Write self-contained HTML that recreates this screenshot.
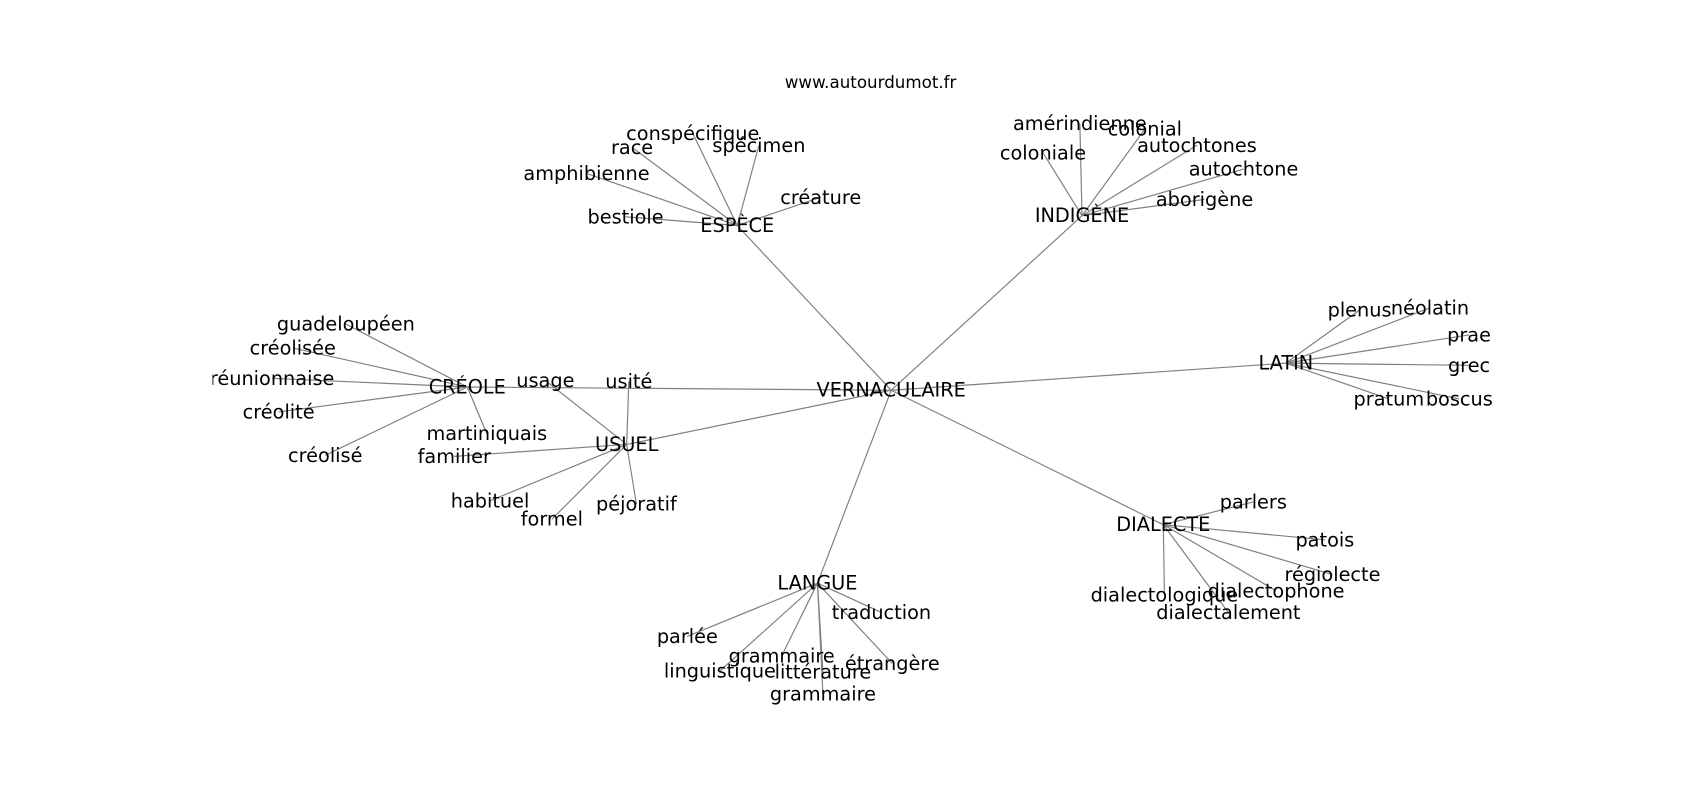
<!DOCTYPE html>
<html><head><meta charset="utf-8"><style>
html,body{margin:0;padding:0;background:#fff;}
svg{display:block;}
text{font-family:"DejaVu Sans","Liberation Sans",sans-serif;font-size:17.8px;fill:#000;text-anchor:middle;dominant-baseline:central;}
line{stroke:#808080;stroke-width:1.1;}
</style></head><body>
<svg width="1700" height="800" viewBox="0 0 1568 738" preserveAspectRatio="none">
<defs><clipPath id="c"><rect x="196" y="0" width="1300" height="738"/></clipPath></defs>
<text x="803" y="76" style="font-size:15.4px">www.autourdumot.fr</text>
<g clip-path="url(#c)">
<g>
<line x1="822" y1="360" x2="680" y2="208"/>
<line x1="822" y1="360" x2="998" y2="199"/>
<line x1="822" y1="360" x2="1186" y2="335"/>
<line x1="822" y1="360" x2="1073" y2="484"/>
<line x1="822" y1="360" x2="754" y2="538"/>
<line x1="822" y1="360" x2="578" y2="410"/>
<line x1="822" y1="360" x2="431" y2="357"/>
<line x1="503" y1="351" x2="578" y2="410"/>
<line x1="580" y1="352" x2="578" y2="410"/>
<line x1="431" y1="357" x2="449" y2="400"/>
<line x1="419" y1="421" x2="578" y2="410"/>
<line x1="680" y1="208" x2="639" y2="123"/>
<line x1="680" y1="208" x2="583" y2="136"/>
<line x1="680" y1="208" x2="700" y2="134"/>
<line x1="680" y1="208" x2="541" y2="160"/>
<line x1="680" y1="208" x2="757" y2="182"/>
<line x1="680" y1="208" x2="577" y2="200"/>
<line x1="998" y1="199" x2="996" y2="114"/>
<line x1="998" y1="199" x2="1056" y2="119"/>
<line x1="998" y1="199" x2="962" y2="141"/>
<line x1="998" y1="199" x2="1104" y2="134"/>
<line x1="998" y1="199" x2="1147" y2="156"/>
<line x1="998" y1="199" x2="1111" y2="184"/>
<line x1="1186" y1="335" x2="1254" y2="286"/>
<line x1="1186" y1="335" x2="1319" y2="284"/>
<line x1="1186" y1="335" x2="1355" y2="309"/>
<line x1="1186" y1="335" x2="1355" y2="337"/>
<line x1="1186" y1="335" x2="1281" y2="368"/>
<line x1="1186" y1="335" x2="1346" y2="368"/>
<line x1="1073" y1="484" x2="1156" y2="463"/>
<line x1="1073" y1="484" x2="1222" y2="498"/>
<line x1="1073" y1="484" x2="1229" y2="530"/>
<line x1="1073" y1="484" x2="1177" y2="545"/>
<line x1="1073" y1="484" x2="1074" y2="549"/>
<line x1="1073" y1="484" x2="1133" y2="565"/>
<line x1="754" y1="538" x2="634" y2="587"/>
<line x1="754" y1="538" x2="813" y2="565"/>
<line x1="754" y1="538" x2="721" y2="605"/>
<line x1="754" y1="538" x2="823" y2="612"/>
<line x1="754" y1="538" x2="664" y2="619"/>
<line x1="754" y1="538" x2="759" y2="620"/>
<line x1="754" y1="538" x2="759" y2="640"/>
<line x1="578" y1="410" x2="452" y2="462"/>
<line x1="578" y1="410" x2="509" y2="479"/>
<line x1="578" y1="410" x2="587" y2="465"/>
<line x1="431" y1="357" x2="319" y2="299"/>
<line x1="431" y1="357" x2="270" y2="321"/>
<line x1="431" y1="357" x2="251" y2="349"/>
<line x1="431" y1="357" x2="257" y2="380"/>
<line x1="431" y1="357" x2="300" y2="420"/>
</g>
<text x="822" y="360">VERNACULAIRE</text>
<text x="680" y="208">ESPÈCE</text>
<text x="998" y="199">INDIGÈNE</text>
<text x="1186" y="335">LATIN</text>
<text x="1073" y="484">DIALECTE</text>
<text x="754" y="538">LANGUE</text>
<text x="578" y="410">USUEL</text>
<text x="431" y="357">CRÉOLE</text>
<text x="503" y="351">usage</text>
<text x="580" y="352">usité</text>
<text x="449" y="400">martiniquais</text>
<text x="419" y="421">familier</text>
<text x="639" y="123">conspécifique</text>
<text x="583" y="136">race</text>
<text x="700" y="134">spécimen</text>
<text x="541" y="160">amphibienne</text>
<text x="757" y="182">créature</text>
<text x="577" y="200">bestiole</text>
<text x="996" y="114">amérindienne</text>
<text x="1056" y="119">colonial</text>
<text x="962" y="141">coloniale</text>
<text x="1104" y="134">autochtones</text>
<text x="1147" y="156">autochtone</text>
<text x="1111" y="184">aborigène</text>
<text x="1254" y="286">plenus</text>
<text x="1319" y="284">néolatin</text>
<text x="1355" y="309">prae</text>
<text x="1355" y="337">grec</text>
<text x="1281" y="368">pratum</text>
<text x="1346" y="368">boscus</text>
<text x="1156" y="463">parlers</text>
<text x="1222" y="498">patois</text>
<text x="1229" y="530">régiolecte</text>
<text x="1177" y="545">dialectophone</text>
<text x="1074" y="549">dialectologique</text>
<text x="1133" y="565">dialectalement</text>
<text x="634" y="587">parlée</text>
<text x="813" y="565">traduction</text>
<text x="721" y="605">grammaire</text>
<text x="823" y="612">étrangère</text>
<text x="664" y="619">linguistique</text>
<text x="759" y="620">littérature</text>
<text x="759" y="640">grammaire</text>
<text x="452" y="462">habituel</text>
<text x="509" y="479">formel</text>
<text x="587" y="465">péjoratif</text>
<text x="319" y="299">guadeloupéen</text>
<text x="270" y="321">créolisée</text>
<text x="251" y="349">réunionnaise</text>
<text x="257" y="380">créolité</text>
<text x="300" y="420">créolisé</text>
</g>
</svg>
</body></html>
